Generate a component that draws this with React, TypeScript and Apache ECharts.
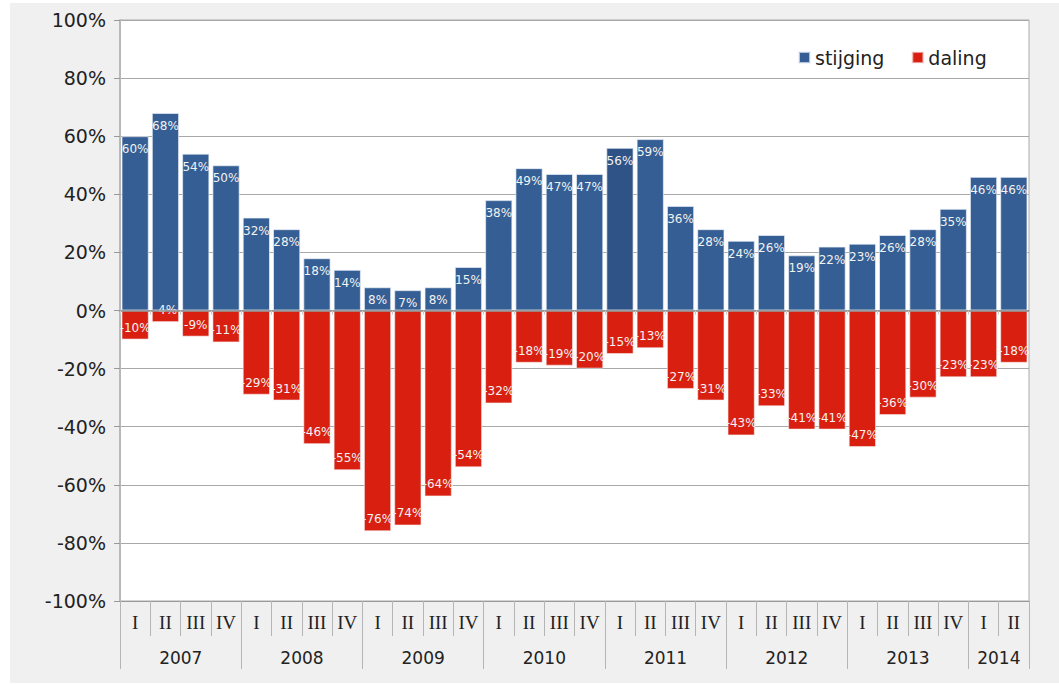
import React, { useEffect, useRef } from "react";
import * as echarts from "echarts";

const quarters = [
  "I", "II", "III", "IV", "I", "II", "III", "IV", "I", "II", "III", "IV",
  "I", "II", "III", "IV", "I", "II", "III", "IV", "I", "II", "III", "IV",
  "I", "II", "III", "IV", "I", "II",
];
const years = [
  "2007", "2007", "2007", "2007", "2008", "2008", "2008", "2008",
  "2009", "2009", "2009", "2009", "2010", "2010", "2010", "2010",
  "2011", "2011", "2011", "2011", "2012", "2012", "2012", "2012",
  "2013", "2013", "2013", "2013", "2014", "2014",
];
const stijging = [
  60, 68, 54, 50, 32, 28, 18, 14, 8, 7, 8, 15, 38, 49, 47, 47,
  56, 59, 36, 28, 24, 26, 19, 22, 23, 26, 28, 35, 46, 46,
];
const daling = [
  -10, -4, -9, -11, -29, -31, -46, -55, -76, -74, -64, -54, -32, -18, -19, -20,
  -15, -13, -27, -31, -43, -33, -41, -41, -47, -36, -30, -23, -23, -18,
];
const yearStart = [0, 4, 8, 12, 16, 20, 24, 28];
const yearLabelIdx = [2, 6, 10, 14, 18, 22, 26, 29];
const highlightIdx = 16;

const BLUE = "#355f94";
const BLUE_DARK = "#2f5386";
const RED = "#d92010";
const SANS = "DejaVu Sans, Verdana, sans-serif";

export default function App() {
  const ref = useRef<HTMLDivElement>(null);
  useEffect(() => {
    if (!ref.current) return;
    const chart = echarts.init(ref.current, null, { renderer: "svg" });
    const cats = quarters.map((q, i) => `${years[i]}-${q}`);
    chart.setOption({
      animation: false,
      backgroundColor: "#f0f0f0",
      textStyle: { fontFamily: SANS },
      legend: {
        data: ["stijging", "daling"],
        left: 783,
        top: 40,
        icon: "rect",
        itemWidth: 11,
        itemHeight: 11,
        itemGap: 27,
        textStyle: { fontSize: 19, color: "#222", fontFamily: SANS },
      },
      grid: {
        left: 110,
        right: 30,
        top: 17,
        bottom: 82,
        show: true,
        backgroundColor: "#ffffff",
        borderColor: "#aaaaaa",
        borderWidth: 1,
      },
      xAxis: [
        {
          type: "category",
          data: cats,
          position: "bottom",
          axisLine: { onZero: false, lineStyle: { color: "#999", width: 1 } },
          axisTick: { show: true, interval: 0, length: 35, lineStyle: { color: "#b5b5b5" } },
          axisLabel: {
            interval: 0,
            margin: 12,
            fontSize: 19,
            color: "#222",
            fontFamily: "Liberation Serif, Times New Roman, serif",
            formatter: (v: string) => v.split("-")[1],
          },
          splitLine: { show: false },
        },
        {
          type: "category",
          data: cats,
          position: "bottom",
          axisLine: { onZero: false, show: false },
          axisTick: {
            show: true,
            length: 68,
            interval: (i: number) => yearStart.includes(i),
            lineStyle: { color: "#b5b5b5" },
          },
          axisLabel: {
            interval: (i: number) => yearLabelIdx.includes(i),
            margin: 48,
            fontSize: 17,
            color: "#222",
            fontFamily: SANS,
            padding: [0, 30, 0, 0],
            formatter: (v: string) => v.split("-")[0],
          },
          splitLine: { show: false },
        },
        {
          type: "category",
          data: cats,
          position: "bottom",
          z: 5,
          axisLine: { onZero: true, lineStyle: { color: "#8c8c8c", width: 1.5 } },
          axisTick: { show: true, interval: 0, length: 4, lineStyle: { color: "#c8c8c8" } },
          axisLabel: { show: false },
          splitLine: { show: false },
        },
      ],
      yAxis: {
        type: "value",
        min: -100,
        max: 100,
        interval: 20,
        axisLine: { show: true, lineStyle: { color: "#b8b8b8", width: 2 } },
        axisTick: { show: true, length: 6, lineStyle: { color: "#999" } },
        axisLabel: {
          formatter: "{value}%",
          fontSize: 19,
          color: "#222",
          margin: 14,
          fontFamily: SANS,
        },
        splitLine: { show: true, lineStyle: { color: "#a8a8a8", width: 1 } },
      },
      series: [
        {
          name: "stijging",
          type: "bar",
          stack: "a",
          xAxisIndex: 0,
          barCategoryGap: "10%",
          itemStyle: { color: BLUE, borderColor: "rgba(235,240,248,0.7)", borderWidth: 1 },
          data: stijging.map((v, i) =>
            i === highlightIdx ? { value: v, itemStyle: { color: BLUE_DARK } } : v
          ),
          label: {
            show: true,
            position: "insideTop",
            distance: 7,
            fontSize: 12,
            color: "#f2f2f2",
            fontFamily: SANS,
            formatter: (p: any) => `${p.value}%`,
          },
        },
        {
          name: "daling",
          type: "bar",
          stack: "a",
          xAxisIndex: 0,
          barCategoryGap: "10%",
          itemStyle: { color: RED, borderColor: "rgba(245,235,235,0.6)", borderWidth: 1 },
          data: daling,
          label: {
            show: true,
            position: "insideBottom",
            distance: 6,
            fontSize: 12,
            color: "#f2f2f2",
            fontFamily: SANS,
            formatter: (p: any) => `${p.value}%`,
          },
        },
      ],
    });
    return () => chart.dispose();
  }, []);
  return (
    <div
      ref={ref}
      style={{ position: "fixed", left: 10, top: 3, width: 1049, height: 680 }}
    />
  );
}
